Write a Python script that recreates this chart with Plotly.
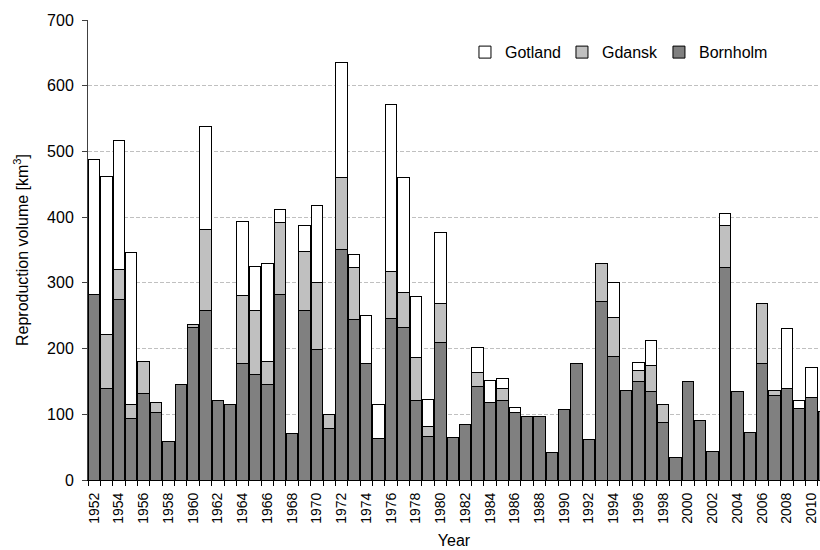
import plotly.graph_objects as go

years = list(range(1952, 2012))

bornholm = [283, 139, 275, 93, 132, 102, 58, 146, 232, 258,
            121, 115, 177, 160, 146, 283, 71, 258, 198, 79,
            351, 244, 177, 63, 246, 232, 121, 66, 209, 65,
            84, 143, 118, 121, 102, 96, 96, 42, 107, 177,
            61, 271, 188, 136, 150, 134, 88, 35, 150, 91,
            44, 323, 134, 72, 177, 128, 139, 109, 125, 104]

gdansk = [None, 82, 45, 22, 49, 16, None, None, 5, 123,
          None, None, 104, 98, 35, 109, None, 90, 102, 21,
          109, 79, None, None, 71, 53, 65, 15, 60, None,
          None, 20, None, 18, None, None, None, None, None, None,
          None, 58, 60, None, 17, 40, 27, None, None, None,
          None, 65, None, None, 92, 8, None, None, None, None]

gotland = [204, 241, 197, 231, None, None, None, None, None, 157,
           None, None, 113, 67, 149, 20, None, 40, 118, None,
           175, 20, 74, 52, 255, 175, 93, 42, 107, None,
           None, 39, 33, 16, 8, None, None, None, None, None,
           None, None, 53, None, 12, 39, None, None, None, None,
           None, 17, None, None, None, None, 91, 12, 46, None]

tick_years = list(range(1952, 2011, 2))

FONT = "Arial, Liberation Sans, sans-serif"

# each series gets its own legend box so the three entries can be placed freely
series = [("Bornholm", bornholm, "#808080", "legend3", 0.780),
          ("Gdansk", gdansk, "#c0c0c0", "legend2", 0.6475),
          ("Gotland", gotland, "#ffffff", "legend", 0.515)]

fig = go.Figure()
for name, vals, color, leg, _ in series:
    fig.add_trace(go.Bar(
        x=years, y=vals, name=name, legend=leg, showlegend=True,
        marker=dict(color=color, line=dict(color="#000000", width=1)),
    ))

legend_style = dict(y=0.93, xanchor="left", yanchor="middle",
                    bgcolor="rgba(0,0,0,0)", font=dict(size=16),
                    itemwidth=30, visible=True)
legends = {leg: dict(x=lx, **legend_style) for _, _, _, leg, lx in series}

fig.update_layout(
    width=820, height=550,
    margin=dict(l=88, r=0, t=20, b=70, autoexpand=False),
    showlegend=True,
    barmode="stack",
    bargap=0.08,
    plot_bgcolor="#ffffff",
    paper_bgcolor="#ffffff",
    font=dict(family=FONT, size=16, color="#000000"),
    **legends,
    xaxis=dict(
        range=[1951.5, 2010.68],
        tickmode="array", tickvals=tick_years,
        ticktext=[str(y) for y in tick_years],
        tickangle=-90, ticks="",
        tickfont=dict(size=14),
        ticklabelstandoff=6,
        showline=True, linecolor="#000000", linewidth=1,
        showgrid=False, zeroline=False,
        minor=dict(ticks="outside", tick0=1951.5, dtick=1,
                   ticklen=5, tickcolor="#000000", showgrid=False),
        title=dict(text="Year", font=dict(size=16), standoff=12),
    ),
    yaxis=dict(
        range=[0, 700], dtick=100,
        ticks="outside", ticklen=5, tickcolor="#404040",
        tickfont=dict(size=16),
        ticklabelstandoff=5,
        showline=True, linecolor="#404040", linewidth=1,
        showgrid=True, gridcolor="#c0c0c0", griddash="4px,2px", gridwidth=1,
        zeroline=False,
        title=dict(text="Reproduction volume [km<sup>3</sup>]",
                   font=dict(size=16), standoff=14),
    ),
)

fig.write_html("out.html")
